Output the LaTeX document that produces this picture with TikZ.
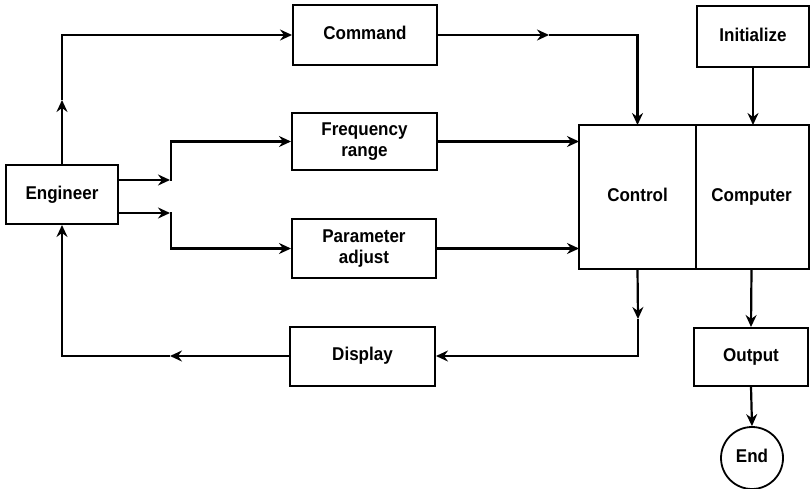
\documentclass[tikz,border=0pt]{standalone}
\usepackage{fontspec}
\newfontfamily\diagfont{Liberation Sans Bold}[FakeStretch=0.92]
\usetikzlibrary{arrows.meta}
\begin{document}
\begin{tikzpicture}[x=1pt,y=-1pt,
  box/.style={draw, line width=2pt, inner sep=0pt, align=center,
    text height=13.5pt, text depth=4pt,
    font=\diagfont\fontsize{18.5}{21}\selectfont},
  conn/.style={line width=2.2pt, line join=miter},
  tip/.style={-{Stealth[length=12pt,width=11pt,inset=4pt]}}]
\useasboundingbox (0,0) rectangle (810,489);
% nodes
\node[box, minimum width=112pt, minimum height=59pt] (eng) at (62,194.5) {Engineer};
\node[box, minimum width=144pt, minimum height=60pt] (cmd) at (365,35) {Command};
\node[box, minimum width=145pt, minimum height=57pt, text height=, text depth=] (freq) at (364.5,141.5) {Frequency\\range};
\node[box, minimum width=144pt, minimum height=59pt, text height=, text depth=] (param) at (364,248.5) {Parameter\\adjust};
\node[box, minimum width=145pt, minimum height=59pt] (disp) at (362.5,356) {Display};
\node[box, minimum width=112pt, minimum height=61pt] (init) at (753,36.5) {Initialize};
\node[box, draw=none, minimum width=115pt, minimum height=142pt] (ctrl) at (637.5,197) {Control};
\node[box, draw=none, minimum width=113pt, minimum height=142pt] (comp) at (751.5,197) {Computer};
\draw[line width=2pt] (ctrl.north west) rectangle (comp.south east);
\draw[line width=1.5pt] (ctrl.north east) -- (ctrl.south east);
\node[box, minimum width=114pt, minimum height=58pt] (out) at (751,357) {Output};
\node[box, circle, minimum size=62pt, line width=1.8pt] (end) at (752,458) {End};
% helper coordinates
\coordinate (a1) at (62,100);
\coordinate (e1) at (eng.east |- 0,180);
\coordinate (e1t) at (170,180);
\coordinate (e2) at (eng.east |- 0,213);
\coordinate (e2t) at (170,213);
\coordinate (c1) at (549,35);
\coordinate (d1) at (638,319);
\coordinate (p1) at (170,356);
% connectors
\draw[conn,tip] (eng.north) -- (a1);
\draw[conn,tip] (a1) |- (cmd.west);
\draw[conn,tip] (e1) -- (e1t);
\draw[conn,tip] (e1t) -- (171,180) |- (freq.west);
\draw[conn,tip] (e2) -- (e2t);
\draw[conn,tip] (e2t) -- (171,213) |- (param.west);
\draw[conn,tip] (cmd.east) -- (c1);
\draw[conn,tip] (c1) -| (ctrl.north);
\draw[conn,tip] (freq.east) -- (freq.east -| ctrl.west);
\draw[conn,tip] (param.east) -- (param.east -| ctrl.west);
\draw[conn,tip] (init.south) -- (init.south |- ctrl.north);
\draw[conn,tip] (ctrl.south) -- (d1);
\draw[conn,tip] (d1) |- (disp.east);
\draw[conn,tip] (disp.west) -- (p1);
\draw[conn,tip] (p1) -| (eng.south);
\draw[conn,tip] (comp.south) -- (out.north);
\draw[conn,tip] (out.south) -- (end.north);
\end{tikzpicture}
\end{document}
